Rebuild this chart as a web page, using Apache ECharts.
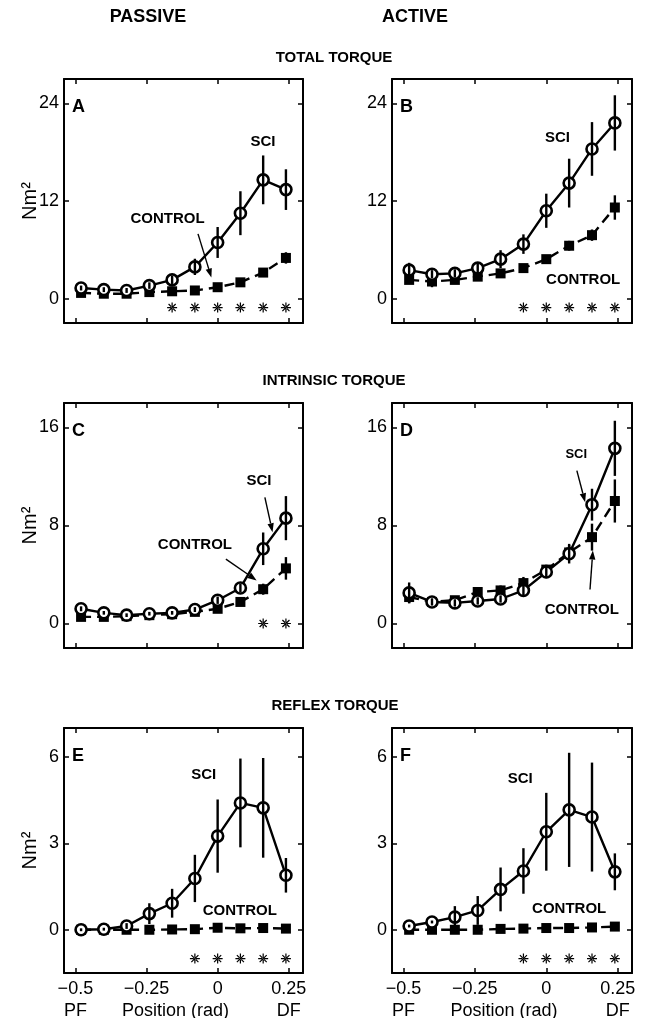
<!DOCTYPE html>
<html><head><meta charset="utf-8">
<script src="https://cdn.jsdelivr.net/npm/echarts@6/dist/echarts.min.js"></script>
<style>html,body{margin:0;padding:0;background:#fff}#c{width:646px;height:1018px}</style>
</head><body><div id="c"></div><script>
// ---------- data ----------
const positions = [-0.48, -0.40, -0.32, -0.24, -0.16, -0.08, 0, 0.08, 0.16, 0.24];
const xTickValues = [-0.5, -0.25, 0, 0.25];
const xTickLabels = ['\u22120.5\nPF', '\u22120.25', '0', '0.25\nDF'];

const totalTicks = [0, 12, 24];
const intrinsicTicks = [0, 8, 16];
const reflexTicks = [0, 3, 6];

// Panel A : passive total
const A_sci = [1.3, 1.1, 1.0, 1.6, 2.3, 3.9, 6.9, 10.5, 14.6, 13.4];
const A_sciErr = [0.3, 0.3, 0.3, 0.4, 0.5, 1.0, 1.9, 2.7, 3.0, 2.5];
const A_ctl = [0.7, 0.6, 0.6, 0.8, 0.9, 1.0, 1.4, 2.0, 3.2, 5.0];
const A_ctlErr = [0.2, 0.2, 0.2, 0.2, 0.3, 0.3, 0.3, 0.3, 0.4, 0.7];
const A_sig = [-0.16, -0.08, 0, 0.08, 0.16, 0.24];

// Panel B : active total
const B_sci = [3.5, 3.0, 3.1, 3.75, 4.85, 6.7, 10.8, 14.2, 18.4, 21.6];
const B_sciErr = [0.9, 0.5, 0.5, 0.6, 1.1, 1.2, 2.1, 3.0, 3.3, 3.4];
const B_ctl = [2.3, 2.1, 2.3, 2.7, 3.1, 3.75, 4.85, 6.5, 7.8, 11.2];
const B_ctlErr = [0.5, 0.7, 0.4, 0.4, 0.4, 0.4, 0.5, 0.6, 0.7, 1.5];
const B_sig = [-0.08, 0, 0.08, 0.16, 0.24];

// Panel C : passive intrinsic
const C_sci = [1.2, 0.87, 0.68, 0.8, 0.87, 1.14, 1.9, 2.9, 6.1, 8.6];
const C_sciErr = [0.2, 0.15, 0.15, 0.15, 0.15, 0.2, 0.3, 0.35, 1.33, 1.8];
const C_ctl = [0.54, 0.54, 0.6, 0.68, 0.76, 0.95, 1.2, 1.76, 2.8, 4.5];
const C_ctlErr = [0.15, 0.15, 0.15, 0.15, 0.15, 0.15, 0.2, 0.3, 0.45, 0.92];
const C_sig = [0.16, 0.24];

// Panel D : active intrinsic
const D_sci = [2.5, 1.76, 1.68, 1.84, 2.0, 2.7, 4.2, 5.7, 9.7, 14.3];
const D_sciErr = [0.85, 0.3, 0.3, 0.3, 0.3, 0.4, 0.5, 0.8, 1.3, 2.25];
const D_ctl = [2.16, 1.76, 1.9, 2.57, 2.7, 3.3, 4.4, 5.8, 7.05, 10.0];
const D_ctlErr = [0.5, 0.3, 0.3, 0.4, 0.4, 0.5, 0.4, 0.6, 1.1, 1.76];
const D_sig = [];

// Panel E : passive reflex
const E_sci = [0.0, 0.02, 0.13, 0.56, 0.92, 1.78, 3.25, 4.4, 4.23, 1.89];
const E_sciErr = [0.05, 0.05, 0.1, 0.36, 0.5, 0.82, 1.27, 1.54, 1.73, 0.6];
const E_ctl = [0.0, 0.0, 0.0, 0.0, 0.01, 0.02, 0.07, 0.05, 0.06, 0.04];
const E_ctlErr = [0.03, 0.03, 0.03, 0.03, 0.03, 0.03, 0.03, 0.03, 0.03, 0.03];
const E_sig = [-0.08, 0, 0.08, 0.16, 0.24];

// Panel F : active reflex
const F_sci = [0.13, 0.27, 0.44, 0.67, 1.4, 2.04, 3.4, 4.16, 3.91, 2.01];
const F_sciErr = [0.05, 0.05, 0.38, 0.5, 0.76, 0.79, 1.35, 1.98, 1.89, 0.64];
const F_ctl = [0.0, 0.0, 0.0, 0.0, 0.03, 0.04, 0.06, 0.06, 0.08, 0.11];
const F_ctlErr = [0.03, 0.03, 0.03, 0.03, 0.03, 0.03, 0.03, 0.03, 0.03, 0.03];
const F_sig = [-0.08, 0, 0.08, 0.16, 0.24];

// ---------- layout ----------
const FONT = 'Liberation Sans, Arial, Helvetica, sans-serif';
const cols = [{ left: 64, width: 239 }, { left: 392, width: 240 }];
const rows = [
  { top: 79, height: 244, min: -3, max: 27, ticks: totalTicks, sigY: -1.1 },
  { top: 403, height: 245, min: -2, max: 18, ticks: intrinsicTicks, sigY: 0 },
  { top: 728, height: 245, min: -1.5, max: 7, ticks: reflexTicks, sigY: -1.0 }
];

const panels = [
  { letter: 'A', r: 0, c: 0, sci: A_sci, sciErr: A_sciErr, ctl: A_ctl, ctlErr: A_ctlErr, sig: A_sig,
    notes: [{ t: 'SCI', x: 0.159, y: 19.3 }, { t: 'CONTROL', x: -0.176, y: 9.8 }],
    arrows: [[-0.069, 7.96, -0.022, 2.6]] },
  { letter: 'B', r: 0, c: 1, sci: B_sci, sciErr: B_sciErr, ctl: B_ctl, ctlErr: B_ctlErr, sig: B_sig,
    notes: [{ t: 'SCI', x: 0.039, y: 19.8 }, { t: 'CONTROL', x: 0.129, y: 2.3 }],
    arrows: [] },
  { letter: 'C', r: 1, c: 0, sci: C_sci, sciErr: C_sciErr, ctl: C_ctl, ctlErr: C_ctlErr, sig: C_sig,
    notes: [{ t: 'SCI', x: 0.145, y: 11.66 }, { t: 'CONTROL', x: -0.08, y: 6.45 }],
    arrows: [[0.166, 10.3, 0.193, 7.45], [0.029, 5.26, 0.137, 3.52]] },
  { letter: 'D', r: 1, c: 1, sci: D_sci, sciErr: D_sciErr, ctl: D_ctl, ctlErr: D_ctlErr, sig: D_sig,
    notes: [{ t: 'SCI', x: 0.105, y: 13.8, small: true }, { t: 'CONTROL', x: 0.124, y: 1.09 }],
    arrows: [[0.107, 12.48, 0.136, 9.9], [0.153, 2.77, 0.163, 5.96]] },
  { letter: 'E', r: 2, c: 0, sci: E_sci, sciErr: E_sciErr, ctl: E_ctl, ctlErr: E_ctlErr, sig: E_sig,
    notes: [{ t: 'SCI', x: -0.049, y: 5.37 }, { t: 'CONTROL', x: 0.078, y: 0.65 }],
    arrows: [] },
  { letter: 'F', r: 2, c: 1, sci: F_sci, sciErr: F_sciErr, ctl: F_ctl, ctlErr: F_ctlErr, sig: F_sig,
    notes: [{ t: 'SCI', x: -0.091, y: 5.24 }, { t: 'CONTROL', x: 0.08, y: 0.72 }],
    arrows: [] }
];

const XMIN = -0.54, XMAX = 0.30;
const asteriskPath = 'path://M-0.6,-5L0.6,-5L0.6,5L-0.6,5Z M-5,-0.6L5,-0.6L5,0.6L-5,0.6Z M3.12,3.96L3.96,3.12L-3.12,-3.96L-3.96,-3.12Z M-3.12,3.96L-3.96,3.12L3.12,-3.96L3.96,-3.12Z';

const grid = [], xAxis = [], yAxis = [], series = [], graphic = [];

function errRender(params, api) {
  const x = api.value(0), lo = api.value(1), hi = api.value(2);
  const p1 = api.coord([x, lo]), p2 = api.coord([x, hi]);
  return { type: 'line', shape: { x1: p1[0], y1: p1[1], x2: p2[0], y2: p2[1] },
           style: { stroke: '#000', lineWidth: 2.4 } };
}

function arrowRender(params, api) {
  const a = api.coord([api.value(0), api.value(1)]);
  const b = api.coord([api.value(2), api.value(3)]);
  const dx = b[0] - a[0], dy = b[1] - a[1];
  const len = Math.sqrt(dx * dx + dy * dy) || 1;
  const ux = dx / len, uy = dy / len;
  const hl = 9, hw = 3.2;
  const bx = b[0] - ux * hl, by = b[1] - uy * hl;
  return {
    type: 'group',
    children: [
      { type: 'line', shape: { x1: a[0], y1: a[1], x2: bx, y2: by }, style: { stroke: '#000', lineWidth: 1.4 } },
      { type: 'polygon', shape: { points: [[b[0], b[1]], [bx - uy * hw, by + ux * hw], [bx + uy * hw, by - ux * hw]] },
        style: { fill: '#000' } }
    ]
  };
}

panels.forEach((p, gi) => {
  const row = rows[p.r], col = cols[p.c];
  grid.push({ left: col.left, top: row.top, width: col.width, height: row.height,
              containLabel: false, outerBoundsMode: 'none' });
  const isBottom = p.r === 2;
  const axLine = { show: true, onZero: false, lineStyle: { color: '#000', width: 2 } };
  const tick = (vals) => ({ show: true, inside: true, length: 5, customValues: vals, lineStyle: { color: '#000', width: 1.5 } });
  // bottom x
  xAxis.push({
    type: 'value', gridIndex: gi, min: XMIN, max: XMAX, position: 'bottom',
    axisLine: axLine, axisTick: tick(xTickValues), splitLine: { show: false },
    axisLabel: {
      show: isBottom, customValues: xTickValues, margin: 5,
      formatter: (v) => xTickLabels[xTickValues.indexOf(Math.round(v * 100) / 100)] || '',
      color: '#000', fontFamily: FONT, fontSize: 18, lineHeight: 22
    },
    name: isBottom ? 'Position (rad)' : '', nameLocation: 'middle', nameGap: 27, nameMoveOverlap: false,
    nameTextStyle: { color: '#000', fontFamily: FONT, fontSize: 18, lineHeight: 22, padding: [0, 16, 0, 0] }
  });
  // top x
  xAxis.push({
    type: 'value', gridIndex: gi, min: XMIN, max: XMAX, position: 'top',
    axisLine: axLine, axisTick: tick(xTickValues), axisLabel: { show: false }, splitLine: { show: false }
  });
  // left y
  yAxis.push({
    type: 'value', gridIndex: gi, min: row.min, max: row.max, position: 'left',
    axisLine: axLine, axisTick: tick(row.ticks), splitLine: { show: false },
    axisLabel: { show: true, customValues: row.ticks, margin: 5, color: '#000', fontFamily: FONT, fontSize: 18 },
    name: p.c === 0 ? 'Nm\u00B2' : '', nameLocation: 'middle', nameGap: 24, nameRotate: 90, nameMoveOverlap: false,
    nameTextStyle: { color: '#000', fontFamily: FONT, fontSize: 20 }
  });
  // right y
  yAxis.push({
    type: 'value', gridIndex: gi, min: row.min, max: row.max, position: 'right',
    axisLine: axLine, axisTick: tick(row.ticks), axisLabel: { show: false }, splitLine: { show: false }
  });
  const xi = gi * 2, yi = gi * 2;

  // control line
  series.push({
    type: 'line', xAxisIndex: xi, yAxisIndex: yi, z: 3,
    data: positions.map((x, i) => [x, p.ctl[i]]),
    symbol: 'rect', symbolSize: 10, itemStyle: { color: '#000', opacity: 1 },
    lineStyle: { color: '#000', width: 2.4, type: [10, 6] }, silent: true
  });
  series.push({
    type: 'custom', xAxisIndex: xi, yAxisIndex: yi, z: 4, renderItem: errRender, silent: true,
    data: positions.map((x, i) => [x, p.ctl[i] - p.ctlErr[i], p.ctl[i] + p.ctlErr[i]])
  });
  // SCI line
  series.push({
    type: 'line', xAxisIndex: xi, yAxisIndex: yi, z: 5,
    data: positions.map((x, i) => [x, p.sci[i]]),
    symbol: 'circle', symbolSize: 11, itemStyle: { color: '#fff', borderColor: '#000', borderWidth: 2.6, opacity: 1 },
    lineStyle: { color: '#000', width: 2.4 }, silent: true
  });
  series.push({
    type: 'custom', xAxisIndex: xi, yAxisIndex: yi, z: 6, renderItem: errRender, silent: true,
    data: positions.map((x, i) => [x, p.sci[i] - p.sciErr[i], p.sci[i] + p.sciErr[i]])
  });
  // significance asterisks
  series.push({
    type: 'scatter', xAxisIndex: xi, yAxisIndex: yi, z: 6, silent: true,
    data: p.sig.map(x => [x, row.sigY]),
    symbol: asteriskPath, symbolSize: 10, itemStyle: { color: '#000', opacity: 1 }
  });
  // annotations
  series.push({
    type: 'scatter', xAxisIndex: xi, yAxisIndex: yi, z: 7, silent: true,
    data: p.notes.map(n => ({ value: [n.x, n.y], name: n.t,
      label: { fontSize: n.small ? 13 : 15 } })),
    symbolSize: 0, itemStyle: { opacity: 1 },
    label: { show: true, position: 'inside', formatter: (q) => q.name, color: '#000', opacity: 1,
             fontFamily: FONT, fontWeight: 'bold', fontSize: 15 }
  });
  // arrows
  if (p.arrows.length) {
    series.push({
      type: 'custom', xAxisIndex: xi, yAxisIndex: yi, z: 8, silent: true, renderItem: arrowRender,
      data: p.arrows
    });
  }
  // panel letter
  graphic.push({
    type: 'text', left: col.left + 8, top: row.top + 19,
    style: { text: p.letter, font: 'bold 18px ' + FONT, fill: '#000' }
  });
});

// headings
const headings = [
  { t: 'PASSIVE', x: 148, y: 17, s: 18 },
  { t: 'ACTIVE', x: 415, y: 17, s: 18 },
  { t: 'TOTAL TORQUE', x: 334, y: 58, s: 15 },
  { t: 'INTRINSIC TORQUE', x: 334, y: 381, s: 15 },
  { t: 'REFLEX TORQUE', x: 335, y: 706, s: 15 }
];
headings.forEach(h => graphic.push({
  type: 'text', x: h.x, y: h.y,
  style: { text: h.t, font: 'bold ' + h.s + 'px ' + FONT, fill: '#000', textAlign: 'center', textVerticalAlign: 'middle' }
}));

const chart = echarts.init(document.getElementById('c'), null, { renderer: 'canvas' });
chart.setOption({
  animation: false, backgroundColor: '#fff',
  grid, xAxis, yAxis, series, graphic
});
</script></body></html>
